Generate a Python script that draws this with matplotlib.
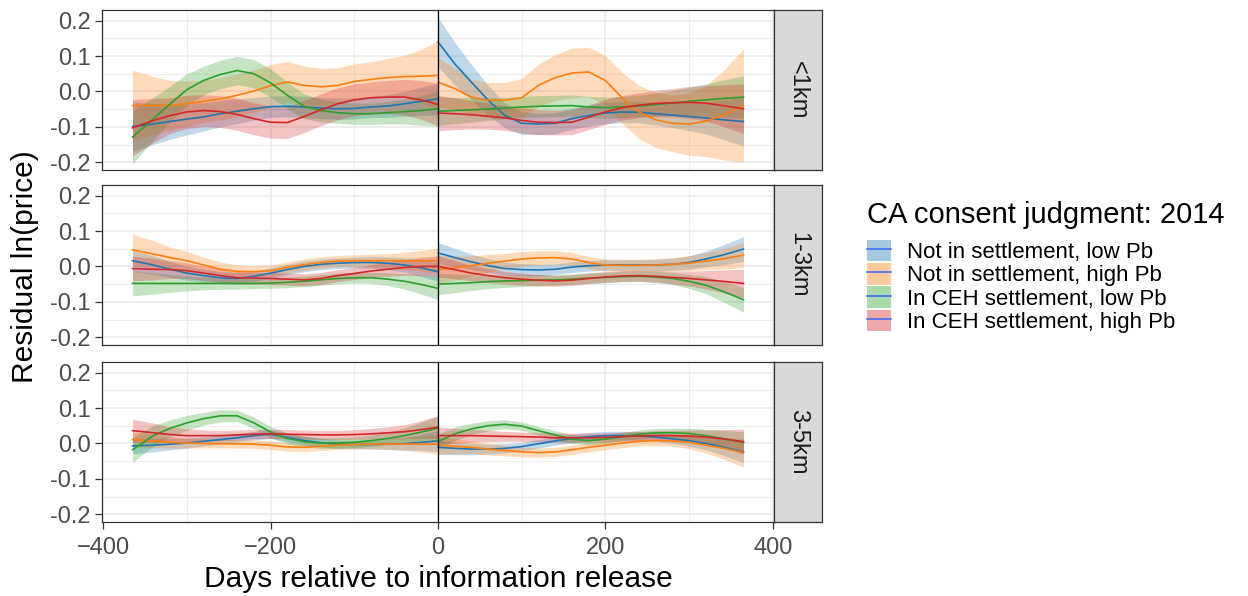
import numpy as np
import matplotlib
matplotlib.use("Agg")
import matplotlib.pyplot as plt
from matplotlib.lines import Line2D
from matplotlib.patches import Patch
from matplotlib.ticker import MultipleLocator, FormatStrFormatter

plt.rcParams['font.family'] = ['Liberation Sans', 'DejaVu Sans']

# groups and colours
groups = ['Not in settlement, low Pb', 'Not in settlement, high Pb',
          'In CEH settlement, low Pb', 'In CEH settlement, high Pb']
colors = ['#1f77b4', '#ff7f0e', '#2ca02c', '#d62728']
distances = ['<1km', '1-3km', '3-5km']

days_pre = [-365, -340, -320, -300, -280, -260, -240, -220, -200, -180,
            -160, -140, -120, -100, -80, -60, -40, -20, 0]
days_post = [0, 20, 40, 60, 80, 100, 120, 140, 160, 180,
             200, 220, 240, 260, 280, 300, 320, 340, 365]

# ---- <1km ----
fit_1km_pre = {
    groups[0]: [-0.099, -0.092, -0.085, -0.078, -0.072, -0.063, -0.056, -0.049, -0.043, -0.042,
                -0.044, -0.047, -0.049, -0.048, -0.044, -0.041, -0.035, -0.028, -0.021],
    groups[1]: [-0.040, -0.040, -0.039, -0.035, -0.028, -0.021, -0.011, 0.001, 0.016, 0.027,
                0.017, 0.013, 0.017, 0.028, 0.034, 0.039, 0.042, 0.043, 0.045],
    groups[2]: [-0.129, -0.077, -0.035, 0.005, 0.031, 0.048, 0.059, 0.050, 0.024, -0.011,
                -0.042, -0.054, -0.060, -0.063, -0.063, -0.060, -0.057, -0.054, -0.049],
    groups[3]: [-0.103, -0.082, -0.068, -0.058, -0.054, -0.057, -0.065, -0.077, -0.087, -0.088,
                -0.071, -0.052, -0.035, -0.024, -0.018, -0.016, -0.016, -0.024, -0.037],
}
se_1km_pre = {
    groups[0]: [0.070, 0.058, 0.050, 0.045, 0.040, 0.037, 0.035, 0.032, 0.030, 0.030,
                0.030, 0.030, 0.030, 0.030, 0.030, 0.032, 0.035, 0.040, 0.045],
    groups[1]: [0.100, 0.082, 0.070, 0.064, 0.060, 0.060, 0.060, 0.060, 0.060, 0.058,
                0.055, 0.052, 0.050, 0.050, 0.050, 0.054, 0.060, 0.075, 0.100],
    groups[2]: [0.075, 0.060, 0.050, 0.045, 0.040, 0.040, 0.040, 0.040, 0.040, 0.038,
                0.035, 0.032, 0.030, 0.030, 0.030, 0.032, 0.035, 0.042, 0.050],
    groups[3]: [0.080, 0.062, 0.050, 0.047, 0.045, 0.045, 0.045, 0.045, 0.045, 0.045,
                0.045, 0.045, 0.045, 0.045, 0.045, 0.047, 0.050, 0.055, 0.060],
}
fit_1km_post = {
    groups[0]: [0.140, 0.078, 0.026, -0.025, -0.068, -0.090, -0.092, -0.090, -0.077, -0.068,
                -0.061, -0.058, -0.059, -0.063, -0.067, -0.071, -0.075, -0.080, -0.085],
    groups[1]: [0.026, 0.008, -0.016, -0.025, -0.025, -0.018, 0.017, 0.039, 0.052, 0.055,
                0.031, -0.018, -0.058, -0.080, -0.090, -0.092, -0.084, -0.068, -0.040],
    groups[2]: [-0.056, -0.054, -0.052, -0.050, -0.047, -0.044, -0.042, -0.041, -0.040, -0.044,
                -0.046, -0.044, -0.041, -0.037, -0.033, -0.028, -0.024, -0.020, -0.016],
    groups[3]: [-0.061, -0.063, -0.066, -0.070, -0.075, -0.082, -0.087, -0.088, -0.087, -0.073,
                -0.058, -0.046, -0.039, -0.034, -0.032, -0.031, -0.033, -0.040, -0.049],
}
se_1km_post = {
    groups[0]: [0.070, 0.060, 0.050, 0.042, 0.035, 0.032, 0.030, 0.030, 0.030, 0.030,
                0.030, 0.030, 0.030, 0.032, 0.035, 0.040, 0.045, 0.055, 0.070],
    groups[1]: [0.070, 0.058, 0.050, 0.050, 0.050, 0.055, 0.060, 0.065, 0.070, 0.070,
                0.070, 0.072, 0.075, 0.078, 0.080, 0.088, 0.100, 0.125, 0.160],
    groups[2]: [0.040, 0.037, 0.035, 0.032, 0.030, 0.030, 0.030, 0.030, 0.030, 0.030,
                0.030, 0.030, 0.030, 0.032, 0.035, 0.040, 0.045, 0.052, 0.060],
    groups[3]: [0.050, 0.045, 0.040, 0.037, 0.035, 0.035, 0.035, 0.035, 0.035, 0.035,
                0.035, 0.035, 0.035, 0.037, 0.040, 0.045, 0.050, 0.058, 0.070],
}

# ---- 1-3km ----
fit_13km_pre = {
    groups[0]: [0.016, 0.004, -0.008, -0.019, -0.026, -0.032, -0.034, -0.028, -0.019, -0.009,
                0.000, 0.006, 0.009, 0.011, 0.011, 0.009, 0.004, -0.004, -0.015],
    groups[1]: [0.047, 0.035, 0.025, 0.016, 0.004, -0.008, -0.014, -0.015, -0.012, -0.003,
                0.005, 0.011, 0.015, 0.016, 0.016, 0.016, 0.016, 0.016, 0.016],
    groups[2]: [-0.048, -0.048, -0.048, -0.048, -0.048, -0.048, -0.048, -0.048, -0.047, -0.045,
                -0.042, -0.038, -0.034, -0.032, -0.032, -0.036, -0.042, -0.051, -0.062],
    groups[3]: [-0.006, -0.008, -0.009, -0.012, -0.019, -0.026, -0.032, -0.033, -0.034, -0.036,
                -0.038, -0.034, -0.026, -0.020, -0.013, -0.008, -0.003, 0.000, 0.000],
}
se_13km_pre = {
    groups[0]: [0.030, 0.026, 0.022, 0.020, 0.018, 0.017, 0.016, 0.015, 0.015, 0.015,
                0.015, 0.015, 0.015, 0.015, 0.016, 0.018, 0.020, 0.024, 0.028],
    groups[1]: [0.045, 0.037, 0.030, 0.026, 0.022, 0.020, 0.018, 0.017, 0.016, 0.016,
                0.016, 0.016, 0.016, 0.017, 0.018, 0.020, 0.024, 0.029, 0.035],
    groups[2]: [0.035, 0.030, 0.025, 0.021, 0.018, 0.017, 0.016, 0.015, 0.015, 0.015,
                0.015, 0.015, 0.015, 0.015, 0.016, 0.018, 0.022, 0.027, 0.032],
    groups[3]: [0.035, 0.030, 0.025, 0.022, 0.020, 0.019, 0.018, 0.017, 0.017, 0.017,
                0.017, 0.017, 0.017, 0.017, 0.018, 0.020, 0.022, 0.026, 0.030],
}
fit_13km_post = {
    groups[0]: [0.038, 0.025, 0.013, 0.002, -0.006, -0.009, -0.010, -0.008, -0.002, 0.002,
                0.004, 0.004, 0.004, 0.004, 0.006, 0.011, 0.021, 0.032, 0.049],
    groups[1]: [-0.009, -0.004, 0.002, 0.009, 0.015, 0.021, 0.024, 0.025, 0.021, 0.011,
                0.004, 0.003, 0.003, 0.004, 0.006, 0.009, 0.015, 0.021, 0.032],
    groups[2]: [-0.050, -0.048, -0.046, -0.043, -0.041, -0.040, -0.039, -0.038, -0.036, -0.033,
                -0.031, -0.029, -0.028, -0.030, -0.034, -0.042, -0.053, -0.070, -0.094],
    groups[3]: [0.000, -0.009, -0.019, -0.026, -0.032, -0.036, -0.039, -0.041, -0.039, -0.034,
                -0.030, -0.027, -0.026, -0.028, -0.031, -0.034, -0.038, -0.042, -0.048],
}
se_13km_post = {
    groups[0]: [0.030, 0.026, 0.022, 0.020, 0.018, 0.017, 0.016, 0.015, 0.015, 0.015,
                0.015, 0.015, 0.015, 0.016, 0.017, 0.019, 0.022, 0.028, 0.035],
    groups[1]: [0.040, 0.034, 0.028, 0.025, 0.022, 0.021, 0.020, 0.019, 0.018, 0.017,
                0.017, 0.017, 0.017, 0.018, 0.019, 0.021, 0.024, 0.029, 0.035],
    groups[2]: [0.030, 0.026, 0.022, 0.020, 0.018, 0.017, 0.016, 0.015, 0.015, 0.015,
                0.015, 0.015, 0.015, 0.016, 0.017, 0.020, 0.024, 0.029, 0.035],
    groups[3]: [0.030, 0.026, 0.022, 0.020, 0.018, 0.017, 0.016, 0.015, 0.015, 0.015,
                0.015, 0.015, 0.015, 0.016, 0.018, 0.021, 0.026, 0.032, 0.040],
}

# ---- 3-5km ----
fit_35km_pre = {
    groups[0]: [-0.007, -0.005, -0.002, 0.001, 0.006, 0.011, 0.016, 0.022, 0.026, 0.017,
                0.008, 0.002, -0.002, -0.003, -0.003, -0.002, -0.001, 0.003, 0.007],
    groups[1]: [0.011, 0.007, 0.003, 0.001, 0.000, -0.001, -0.001, -0.002, -0.005, -0.010,
                -0.011, -0.008, -0.005, -0.003, -0.002, -0.002, -0.002, -0.002, -0.002],
    groups[2]: [-0.018, 0.022, 0.043, 0.058, 0.070, 0.078, 0.078, 0.058, 0.032, 0.014,
                0.005, 0.001, 0.001, 0.003, 0.008, 0.014, 0.022, 0.032, 0.043],
    groups[3]: [0.036, 0.030, 0.025, 0.022, 0.022, 0.022, 0.024, 0.026, 0.027, 0.026,
                0.025, 0.024, 0.024, 0.025, 0.027, 0.030, 0.033, 0.039, 0.046],
}
se_35km_pre = {
    groups[0]: [0.022, 0.019, 0.016, 0.014, 0.013, 0.012, 0.012, 0.012, 0.012, 0.012,
                0.012, 0.012, 0.012, 0.012, 0.013, 0.015, 0.018, 0.023, 0.030],
    groups[1]: [0.022, 0.019, 0.016, 0.014, 0.013, 0.012, 0.012, 0.012, 0.012, 0.012,
                0.012, 0.012, 0.012, 0.012, 0.013, 0.015, 0.018, 0.022, 0.028],
    groups[2]: [0.035, 0.029, 0.024, 0.021, 0.018, 0.017, 0.016, 0.016, 0.016, 0.015,
                0.015, 0.015, 0.015, 0.015, 0.016, 0.018, 0.022, 0.028, 0.035],
    groups[3]: [0.032, 0.027, 0.022, 0.019, 0.016, 0.015, 0.014, 0.013, 0.013, 0.013,
                0.013, 0.013, 0.013, 0.014, 0.015, 0.017, 0.020, 0.025, 0.032],
}
fit_35km_post = {
    groups[0]: [-0.011, -0.014, -0.016, -0.016, -0.014, -0.009, -0.001, 0.007, 0.014, 0.019,
                0.022, 0.022, 0.021, 0.018, 0.013, 0.008, 0.000, -0.010, -0.024],
    groups[1]: [-0.005, -0.008, -0.011, -0.016, -0.020, -0.024, -0.026, -0.024, -0.018, -0.011,
                -0.005, 0.001, 0.006, 0.008, 0.007, 0.003, -0.005, -0.013, -0.026],
    groups[2]: [0.005, 0.027, 0.041, 0.050, 0.054, 0.049, 0.036, 0.024, 0.012, 0.008,
                0.012, 0.019, 0.026, 0.030, 0.030, 0.028, 0.022, 0.014, 0.003],
    groups[3]: [0.022, 0.022, 0.022, 0.021, 0.020, 0.019, 0.018, 0.016, 0.016, 0.016,
                0.017, 0.019, 0.021, 0.022, 0.022, 0.021, 0.018, 0.013, 0.005],
}
se_35km_post = {
    groups[0]: [0.020, 0.018, 0.016, 0.014, 0.013, 0.012, 0.012, 0.012, 0.012, 0.012,
                0.012, 0.012, 0.012, 0.012, 0.013, 0.015, 0.018, 0.023, 0.030],
    groups[1]: [0.025, 0.021, 0.018, 0.016, 0.015, 0.014, 0.013, 0.013, 0.013, 0.013,
                0.013, 0.013, 0.013, 0.014, 0.015, 0.018, 0.022, 0.030, 0.040],
    groups[2]: [0.022, 0.019, 0.016, 0.014, 0.013, 0.012, 0.012, 0.012, 0.012, 0.012,
                0.012, 0.012, 0.012, 0.012, 0.013, 0.015, 0.018, 0.023, 0.030],
    groups[3]: [0.025, 0.021, 0.018, 0.016, 0.014, 0.013, 0.013, 0.013, 0.013, 0.013,
                0.013, 0.013, 0.013, 0.014, 0.015, 0.017, 0.020, 0.026, 0.035],
}

panel_data = [
    (fit_1km_pre, se_1km_pre, fit_1km_post, se_1km_post),
    (fit_13km_pre, se_13km_pre, fit_13km_post, se_13km_post),
    (fit_35km_pre, se_35km_pre, fit_35km_post, se_35km_post),
]

fig = plt.figure(figsize=(12.48, 5.96), dpi=100)

W, H = 1248, 596
left, right = 102, 774
tops = [10, 185, 362]
ph = 160
strip_w = 48

for i, (fpre, spre, fpost, spost) in enumerate(panel_data):
    ax = fig.add_axes([left / W, 1 - (tops[i] + ph) / H, (right - left) / W, ph / H])
    for g, c in zip(groups, colors):
        for days, fit, se in ((days_pre, fpre, spre), (days_post, fpost, spost)):
            y = np.array(fit[g])
            h = np.array(se[g])
            ax.fill_between(days, y - h, y + h, color=c, alpha=0.28, lw=0)
            ax.plot(days, y, color=c, lw=1.2)
    ax.axvline(0, color='black', lw=0.9)

    ax.set_xlim(-401.5, 401.5)
    ax.set_ylim(-0.222, 0.230)
    ax.xaxis.set_major_locator(MultipleLocator(200))
    ax.xaxis.set_minor_locator(MultipleLocator(100))
    ax.yaxis.set_major_locator(MultipleLocator(0.1))
    ax.yaxis.set_minor_locator(MultipleLocator(0.05))
    ax.yaxis.set_major_formatter(FormatStrFormatter('%.1f'))
    ax.grid(which='major', color='#EBEBEB', lw=1.1)
    ax.grid(which='minor', color='#EBEBEB', lw=0.6)
    ax.set_axisbelow(True)
    ax.tick_params(which='minor', length=0)
    ax.tick_params(which='major', length=5, width=0.9, color='#333333',
                   labelcolor='#4D4D4D', labelsize=17)
    ax.tick_params(axis='y', pad=3)
    ax.tick_params(axis='x', pad=6)
    if i < 2:
        ax.tick_params(axis='x', which='both', bottom=False, labelbottom=False)
    for sp in ax.spines.values():
        sp.set_color('#333333')
        sp.set_linewidth(0.9)

    # facet strip on the right
    sax = fig.add_axes([right / W, 1 - (tops[i] + ph) / H, strip_w / W, ph / H])
    sax.set_facecolor('#D9D9D9')
    sax.set_xticks([])
    sax.set_yticks([])
    for sp in sax.spines.values():
        sp.set_color('#333333')
        sp.set_linewidth(0.9)
    sax.text(0.5, 0.5, distances[i], rotation=-90, ha='center', va='center',
             fontsize=17, color='#1A1A1A', transform=sax.transAxes)

fig.text(0.020, 1 - 267 / H, 'Residual ln(price)', rotation=90,
         ha='center', va='center', fontsize=21.5)
fig.text((left + right) / 2 / W, 1 - 579 / H, 'Days relative to information release',
         ha='center', va='center', fontsize=21.5)

# legend
fig.text(867 / W, 1 - 215 / H, 'CA consent judgment: 2014', ha='left', va='center',
         fontsize=21)
handles = [(Patch(facecolor=c, alpha=0.4, lw=0), Line2D([], [], color='#3366FF', lw=1.1))
           for c in colors]
fig.legend(handles, groups, loc='upper left', bbox_to_anchor=(867 / W, 1 - 240 / H),
           frameon=False, fontsize=16, handlelength=1.1, handleheight=1.1,
           labelspacing=0.0, handletextpad=0.7, borderpad=0, borderaxespad=0)

fig.savefig('out.png', dpi=100)
